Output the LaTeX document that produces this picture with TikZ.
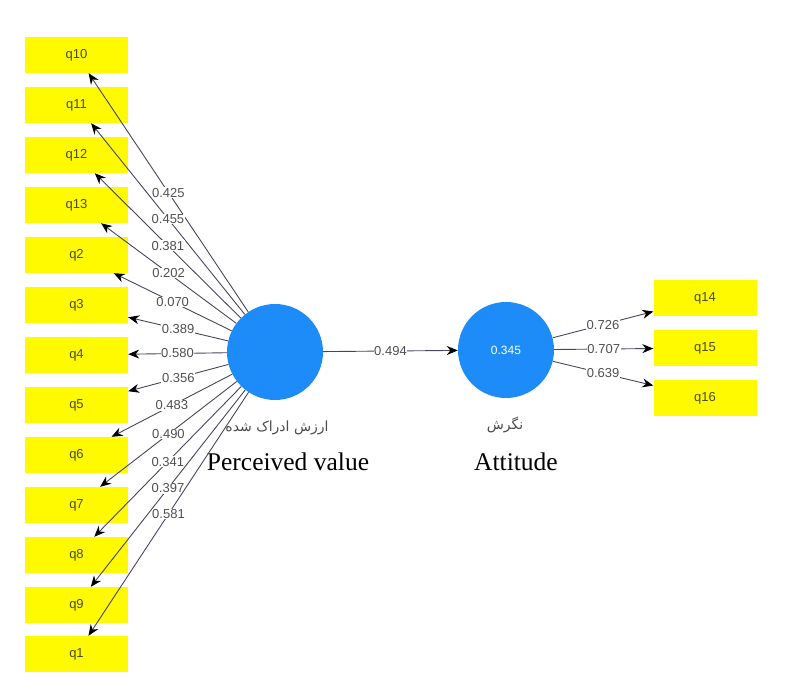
\documentclass[tikz,border=0pt]{standalone}
\usepackage{fontspec}
\setmainfont{Liberation Serif}
\setsansfont{Liberation Sans}
\newfontfamily\arabicfont[Script=Arabic]{DejaVu Sans}
\TeXXeTstate=1
\usetikzlibrary{arrows.meta}
\tikzset {>={Stealth[black,length=11pt,width=9pt]}}
\definecolor{itemyellow}{RGB}{255,250,0}
\definecolor{itemtext}{RGB}{75,75,45}
\definecolor{lvblue}{RGB}{30,140,248}
\definecolor{loadgray}{RGB}{70,70,95}
\definecolor{coefgray}{RGB}{80,80,80}
\tikzset{
  item/.style={fill=itemyellow,minimum width=103pt,minimum height=36pt,inner sep=0pt,
    font=\sffamily\fontsize{13}{13}\selectfont,text=itemtext},
  latent/.style={circle,fill=lvblue,minimum size=96pt,inner sep=0pt},
  loading/.style={draw=loadgray,line width=.9pt,->},
  coef/.style={fill=white,inner sep=.6pt,font=\sffamily\fontsize{13}{13}\selectfont,text=coefgray},
  lvname/.style={font=\fontsize{25.5}{25.5}\selectfont},
  lvfa/.style={font=\arabicfont\fontsize{14}{14}\selectfont,text=black!70}
}

\begin{document}
\begin{tikzpicture}[x=1pt,y=-1pt]
\useasboundingbox (0,0) rectangle (793,698);
\node[item] (q10) at (76.5,55) {q10};
\node[item] (q11) at (76.5,105) {q11};
\node[item] (q12) at (76.5,155) {q12};
\node[item] (q13) at (76.5,205) {q13};
\node[item] (q2) at (76.5,255) {q2};
\node[item] (q3) at (76.5,305) {q3};
\node[item] (q4) at (76.5,355) {q4};
\node[item] (q5) at (76.5,405) {q5};
\node[item] (q6) at (76.5,455) {q6};
\node[item] (q7) at (76.5,505) {q7};
\node[item] (q8) at (76.5,555) {q8};
\node[item] (q9) at (76.5,605) {q9};
\node[item] (q1) at (76.5,654) {q1};
\node[item] (q14) at (705,298) {q14};
\node[item] (q15) at (705,348) {q15};
\node[item] (q16) at (705,398) {q16};

\node[latent] (pv) at (275,352) {};
\node[latent,text=white,font=\sffamily\fontsize{12}{12}\selectfont] (att) at (506,350) {0.345};
\node[lvfa] (pvfa) at (277,428) {\beginR ارزش ادراک شده\endR};
\node[lvname] (pvname) at (288,462) {Perceived value};
\node[lvfa] (attfa) at (505,425) {\beginR نگرش\endR};
\node[lvname] (attname) at (516,462) {Attitude};

\draw[loading] (pv) -- node[coef] {0.425} (q10);
\draw[loading] (pv) -- node[coef] {0.455} (q11);
\draw[loading] (pv) -- node[coef] {0.381} (q12);
\draw[loading] (pv) -- node[coef] {0.202} (q13);
\draw[loading] (pv) -- node[coef] {0.070} (q2);
\draw[loading] (pv) -- node[coef] {0.389} (q3);
\draw[loading] (pv) -- node[coef] {0.580} (q4);
\draw[loading] (pv) -- node[coef] {0.356} (q5);
\draw[loading] (pv) -- node[coef] {0.483} (q6);
\draw[loading] (pv) -- node[coef] {0.490} (q7);
\draw[loading] (pv) -- node[coef] {0.341} (q8);
\draw[loading] (pv) -- node[coef] {0.397} (q9);
\draw[loading] (pv) -- node[coef] {0.581} (q1);
\draw[loading] (pv) -- node[coef] {0.494} (att);
\draw[loading] (att) -- node[coef] {0.726} (q14);
\draw[loading] (att) -- node[coef] {0.707} (q15);
\draw[loading] (att) -- node[coef] {0.639} (q16);
\end{tikzpicture}
\end{document}
